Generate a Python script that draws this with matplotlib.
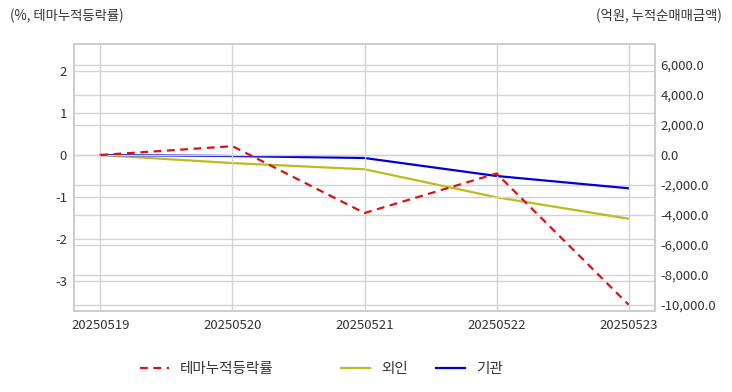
import matplotlib
matplotlib.use("Agg")
import matplotlib.pyplot as plt
from matplotlib.ticker import FuncFormatter
from matplotlib.lines import Line2D

plt.rcParams['font.family'] = ['Noto Sans CJK KR', 'DejaVu Sans']
plt.rcParams['axes.unicode_minus'] = False

# 데이터
dates = ["20250519", "20250520", "20250521", "20250522", "20250523"]
theme_rate = [0.0, 0.21, -1.38, -0.44, -3.56]          # %, 테마누적등락률
foreign = [0.0, -540.0, -950.0, -2820.0, -4250.0]       # 억원, 외인
institution = [0.0, -70.0, -200.0, -1400.0, -2220.0]    # 억원, 기관

left_ticks = [-3, -2, -1, 0, 1, 2]
right_ticks = [-10000, -8000, -6000, -4000, -2000, 0, 2000, 4000, 6000]

grid_c = "#d3d3d3"
text_c = "#333333"
red, yellow, blue = "#e01010", "#bcbc1c", "#0000d8"
dash = (0, (3.5, 2.5))

fig = plt.figure(figsize=(7.32, 3.92), dpi=100)
ax = fig.add_axes([74 / 732, 1 - 311 / 392, (655 - 74) / 732, (311 - 44) / 392])
ax2 = ax.twinx()

x = list(range(len(dates)))
ax.plot(x, theme_rate, color=red, linestyle=dash, linewidth=1.6, zorder=5)
ax2.plot(x, foreign, color=yellow, linewidth=1.6)
ax2.plot(x, institution, color=blue, linewidth=1.6)

ax.set_xlim(-0.2, 4.2)
ax.set_ylim(-3.71, 2.64)
ax2.set_ylim(-10400, 7400)

ax.set_xticks(x)
ax.set_xticklabels(dates)
ax.set_yticks(left_ticks)
ax2.set_yticks(right_ticks)
ax2.yaxis.set_major_formatter(FuncFormatter(lambda v, p: f"{v:,.1f}"))

ax.grid(True, color=grid_c, linewidth=1)
ax2.grid(True, axis="y", color=grid_c, linewidth=1)
ax.set_axisbelow(True)
ax2.set_axisbelow(True)
ax.set_zorder(ax2.get_zorder() + 1)
ax.patch.set_visible(False)

for a in (ax, ax2):
    for s in a.spines.values():
        s.set_color("#cccccc")
        s.set_linewidth(1.2)
    a.tick_params(length=0, labelsize=9.5, colors=text_c)
ax.tick_params(axis="x", pad=6)
ax.tick_params(axis="y", pad=5)
ax2.tick_params(axis="y", pad=4)

fig.text(10 / 732, 1 - 16 / 392, "(%, 테마누적등락률)", fontsize=9.6, color=text_c, va="center", ha="left")
fig.text(722 / 732, 1 - 16 / 392, "(억원, 누적순매매금액)", fontsize=9.6, color=text_c, va="center", ha="right")

# 범례: 항목별 위치
legend_items = [
    (Line2D([], [], color=red, linestyle=dash, linewidth=1.6), "테마누적등락률", 140),
    (Line2D([], [], color=yellow, linewidth=1.6), "외인", 341),
    (Line2D([], [], color=blue, linewidth=1.6), "기관", 436),
]
for h, lab, px in legend_items:
    leg = fig.legend([h], [lab], loc="center left", bbox_to_anchor=(px / 732, 1 - 369 / 392),
                     frameon=False, fontsize=10.5, handlelength=2.0, handletextpad=0.75,
                     borderpad=0, borderaxespad=0)
    for t in leg.get_texts():
        t.set_color(text_c)

fig.savefig("out.png", dpi=100)
